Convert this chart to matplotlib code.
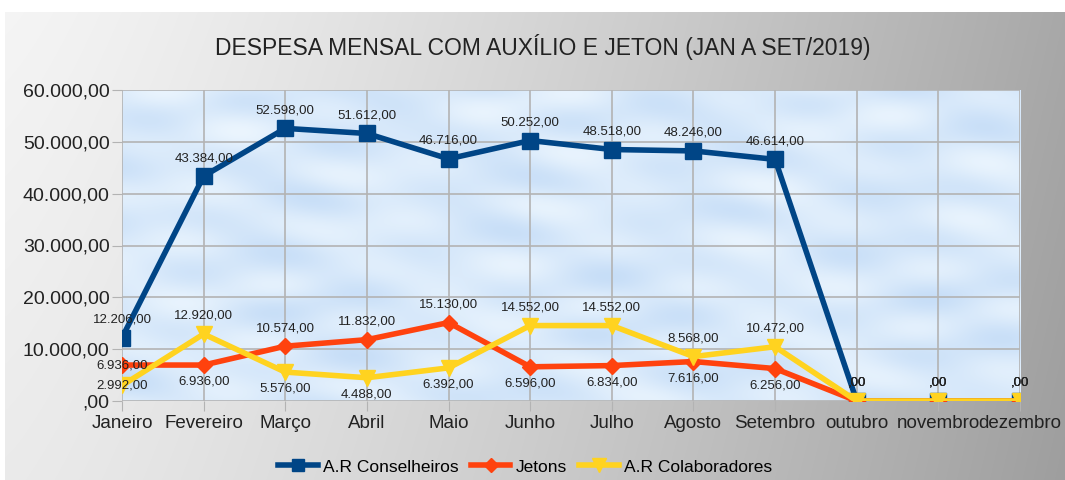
import numpy as np
import matplotlib
matplotlib.use("Agg")
import matplotlib.pyplot as plt
from matplotlib.lines import Line2D

plt.rcParams['font.family'] = ['Liberation Sans', 'DejaVu Sans']

months = ["Janeiro", "Fevereiro", "Março", "Abril", "Maio", "Junho", "Julho",
          "Agosto", "Setembro", "outubro", "novembro", "dezembro"]
conselheiros = [12206, 43384, 52598, 51612, 46716, 50252, 48518, 48246, 46614, 0, 0, 0]
jetons = [6936, 6936, 10574, 11832, 15130, 6596, 6834, 7616, 6256, 0, 0, 0]
colaboradores = [2992, 12920, 5576, 4488, 6392, 14552, 14552, 8568, 10472, 0, 0, 0]
yticks = [0, 10000, 20000, 30000, 40000, 50000, 60000]
ytick_labels = [",00", "10.000,00", "20.000,00", "30.000,00", "40.000,00", "50.000,00", "60.000,00"]
title = "DESPESA MENSAL COM AUXÍLIO E JETON (JAN A SET/2019)"
series_names = ["A.R Conselheiros", "Jetons", "A.R Colaboradores"]

# label placement (styling): 'a' above, 'b' below, 'c' centered on point
pos_cons = ['a'] * 12
pos_jet = ['c', 'b', 'a', 'a', 'a', 'b', 'b', 'b', 'b', 'a', 'a', 'a']
pos_col = ['c', 'a', 'b', 'b', 'b', 'a', 'a', 'a', 'a', 'a', 'a', 'a']


def fmt(v):
    if v == 0:
        return ",00"
    s = f"{v:,.2f}"
    return s.replace(",", "X").replace(".", ",").replace("X", ".")


fig = plt.figure(figsize=(10.65, 4.8), dpi=100)

# background gradient panel
bg = fig.add_axes([0, 0, 1, 1], zorder=-10)
H, W = 480, 1065
xx = np.linspace(0, 1, W)[None, :]
yy = np.linspace(0, 1, H)[:, None]
val = 0.96 - 0.30 * xx ** 1.3 - 0.04 * yy
img = np.repeat(val[:, :, None], 3, axis=2)
img[:12, :, :] = 1.0
img[:, :5, :] = 1.0
bg.imshow(img, aspect='auto', extent=[0, 1, 0, 1], origin='upper')
bg.set_axis_off()

ax = fig.add_axes([122 / W, 1 - 401 / H, (1020 - 122) / W, (401 - 90) / H])
x = np.arange(len(months))

# soft sky-like texture for the plot area
ph, pw = 311, 898
u = np.linspace(0, 1, pw)[None, :]
v = np.linspace(0, 1, ph)[:, None]
t = (np.sin(u * 23 + np.sin(v * 9) * 2) * np.cos(v * 17 + u * 5)
     + 0.6 * np.sin(u * 41 - v * 29) + 0.5 * np.cos(u * 11 + v * 37))
t = (t - t.min()) / (t.max() - t.min())
c0 = np.array([0.78, 0.87, 0.97])
c1 = np.array([0.92, 0.96, 0.995])
sky = c0[None, None, :] + (c1 - c0)[None, None, :] * t[:, :, None]
ax.imshow(sky, aspect='auto', extent=[0, len(months) - 1, 0, 60000], origin='upper', zorder=-5)

ax.plot(x, conselheiros, color='#004586', lw=4, marker='s', ms=11, zorder=5)
ax.plot(x, jetons, color='#ff420e', lw=4, marker='D', ms=8, zorder=6)
ax.plot(x, colaboradores, color='#ffd320', lw=4, marker='v', ms=12, zorder=7)

offs = {'a': (0, 13), 'b': (0, -12), 'c': (0, 0)}
for series, pos in [(conselheiros, pos_cons), (jetons, pos_jet), (colaboradores, pos_col)]:
    for xi, val_ in zip(x, series):
        pass
    for xi, v_, p in zip(x, series, pos):
        ax.annotate(fmt(v_), (xi, v_), xytext=offs[p], textcoords='offset points',
                    ha='center', va='center', fontsize=9.5, color='#222222', zorder=10)

ax.set_xlim(0, len(months) - 1)
ax.set_ylim(0, 60000)
ax.set_yticks(yticks)
ax.set_yticklabels(ytick_labels, fontsize=14, color='#222222')
ax.set_xticks(x)
ax.set_xticklabels(months, fontsize=13.5, color='#222222')
ax.grid(True, color='#b3b3b3', lw=1.2, zorder=0)
ax.set_axisbelow(True)
ax.tick_params(axis='both', direction='out', length=7, color='#b3b3b3', pad=3)
ax.tick_params(axis='y', pad=2)
for s in ax.spines.values():
    s.set_visible(False)

fig.text(543 / W, 1 - 47 / H, title, ha='center', va='center', fontsize=16.5, color='#222222')

handles = [Line2D([], [], color='#004586', lw=4, marker='s', ms=9),
           Line2D([], [], color='#ff420e', lw=4, marker='D', ms=7),
           Line2D([], [], color='#ffd320', lw=4, marker='v', ms=10)]
fig.legend(handles, series_names,
           loc='center', bbox_to_anchor=(525 / W, 1 - 467 / H), ncol=3, frameon=False,
           fontsize=12.5, handlelength=2.3, columnspacing=0.7, handletextpad=0.3)

fig.savefig("out.png", dpi=100)
